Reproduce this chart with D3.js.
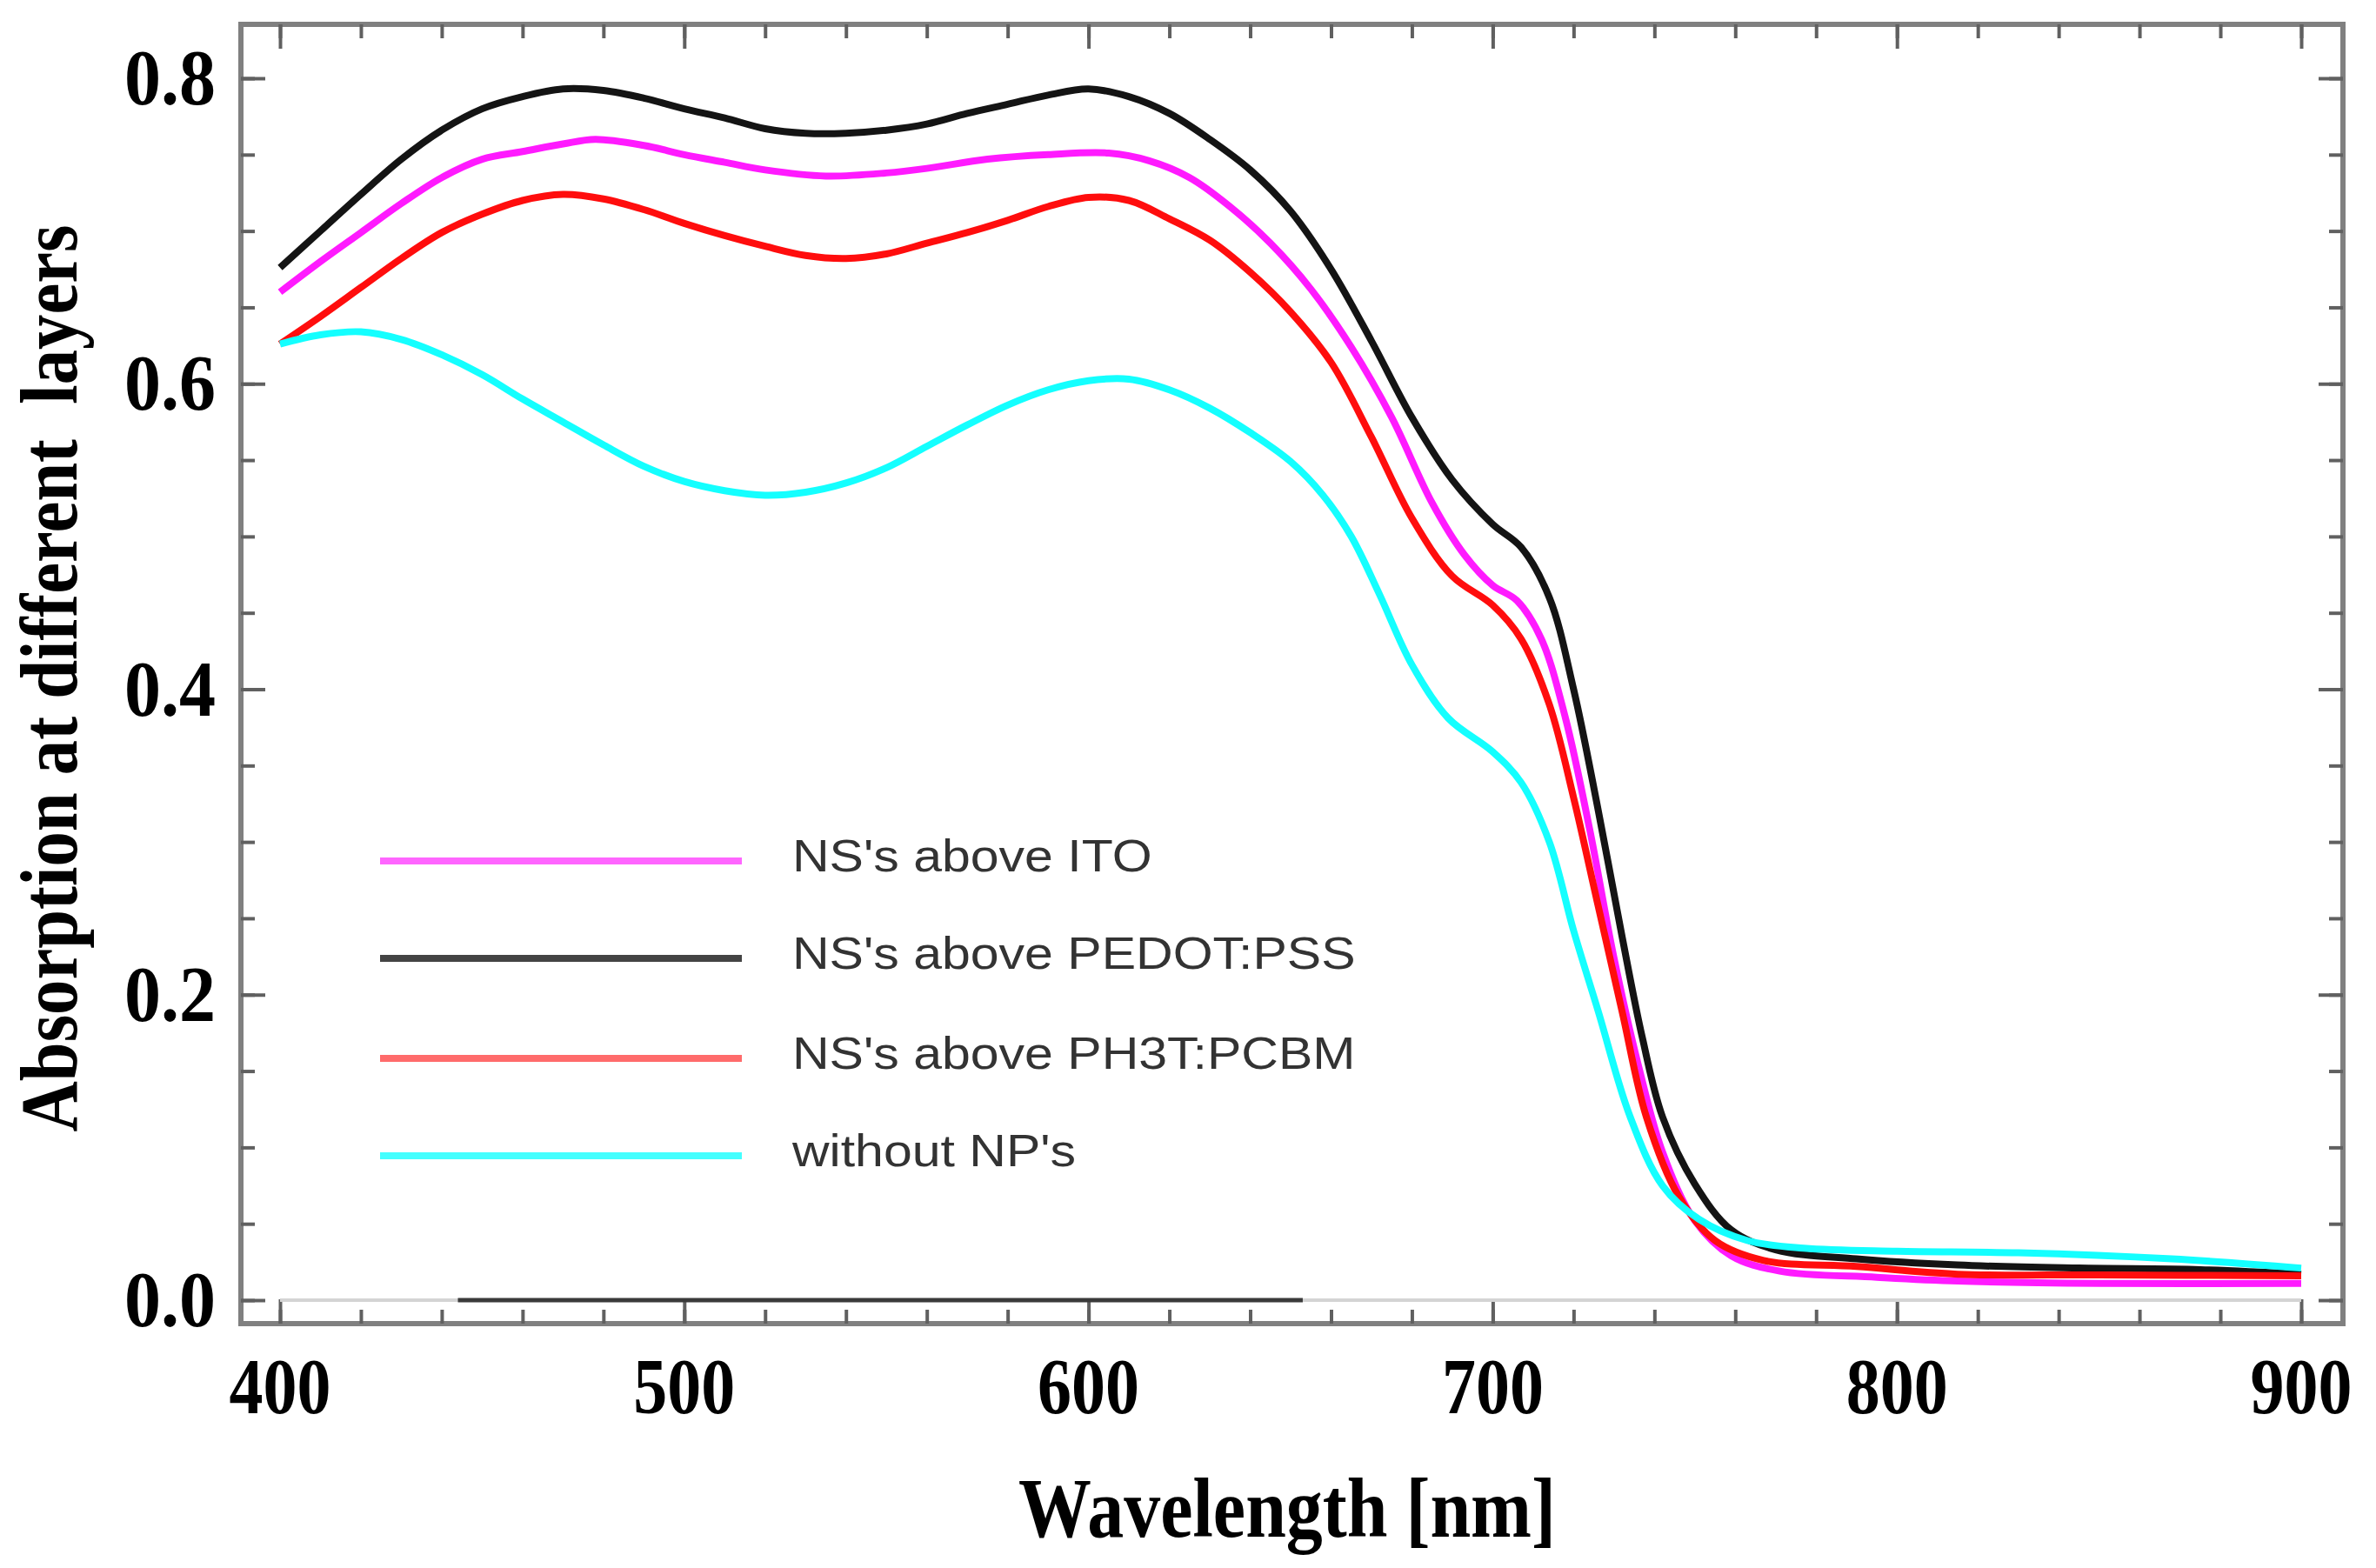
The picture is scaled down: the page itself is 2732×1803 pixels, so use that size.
<!DOCTYPE html>
<html>
<head>
<meta charset="utf-8">
<script src="https://cdn.jsdelivr.net/npm/d3@7"></script>
<style>
body { margin: 0; background: #fff; }
text { font-family: "Liberation Serif", "Times New Roman", serif; }
</style>
</head>
<body>
<svg id="chart" width="2732" height="1803"></svg>
<script>
// wavelength [nm], absorption
var seriesNames = ["NS's above ITO", "NS's above PEDOT:PSS", "NS's above PH3T:PCBM", "without NP's"];

var ito = [[400,0.660],[410,0.680],[420,0.699],[430,0.718],[440,0.735],[450,0.747],[460,0.752],[470,0.757],
  [478,0.760],[490,0.756],[500,0.750],[510,0.745],[520,0.740],[535,0.736],[550,0.738],[560,0.741],[575,0.747],
  [590,0.750],[605,0.751],[615,0.746],[625,0.735],[635,0.716],[645,0.692],[655,0.662],[665,0.624],[675,0.578],
  [685,0.522],[693,0.488],[700,0.468],[706,0.458],[712,0.433],[718,0.381],[724,0.308],[730,0.224],[736,0.154],
  [742,0.097],[750,0.052],[759,0.029],[771,0.019],[795,0.015],[815,0.0125],[850,0.011],[900,0.011]];

var pedot = [[400,0.676],[410,0.700],[420,0.724],[430,0.747],[440,0.766],[450,0.780],[460,0.788],[470,0.793],
  [480,0.792],[490,0.787],[500,0.780],[510,0.774],[520,0.767],[530,0.764],[540,0.764],[550,0.766],[560,0.770],
  [570,0.777],[580,0.783],[590,0.789],[600,0.793],[610,0.788],[620,0.777],[630,0.760],[640,0.740],[650,0.713],
  [660,0.675],[670,0.628],[680,0.578],[690,0.537],[700,0.508],[707,0.493],[714,0.460],[720,0.400],[726,0.322],
  [732,0.238],[737,0.172],[742,0.120],[750,0.076],[759,0.046],[770,0.033],[790,0.027],[815,0.023],[845,0.021],
  [875,0.020],[900,0.017]];

var ph3t = [[400,0.626],[410,0.644],[420,0.663],[430,0.682],[440,0.699],[450,0.711],[460,0.720],[470,0.724],
  [480,0.721],[490,0.714],[500,0.705],[510,0.697],[520,0.690],[530,0.684],[540,0.682],[550,0.685],[560,0.692],
  [570,0.699],[580,0.707],[590,0.716],[600,0.722],[610,0.720],[620,0.708],[630,0.694],[640,0.673],[650,0.647],
  [660,0.614],[670,0.565],[680,0.512],[690,0.474],[700,0.455],[707,0.433],[714,0.390],[720,0.329],[726,0.259],
  [732,0.189],[738,0.120],[746,0.068],[755,0.039],[767,0.026],[790,0.022],[815,0.017],[850,0.0165],[900,0.016]];

var noNP = [[400,0.626],[410,0.632],[420,0.634],[430,0.629],[440,0.619],[450,0.606],[460,0.590],[470,0.575],
  [480,0.560],[490,0.546],[500,0.536],[510,0.530],[520,0.527],[530,0.529],[540,0.535],[550,0.545],[560,0.559],
  [570,0.573],[580,0.586],[590,0.596],[600,0.602],[610,0.603],[620,0.596],[630,0.584],[640,0.568],[650,0.549],
  [658,0.527],[665,0.500],[672,0.462],[680,0.416],[689,0.381],[700,0.359],[707,0.339],[714,0.300],[720,0.242],
  [726,0.190],[734,0.120],[742,0.075],[751,0.053],[763,0.039],[777,0.034],[800,0.032],[830,0.031],[868,0.027],
  [900,0.021]];

// stray zero lines in the original figure
var zeroLight = [[400,0],[900,0]];
var zeroDark = [[444,0],[653,0]];

var xMajor = [400,500,600,700,800,900];
var xMinor = d3.range(400, 901, 20);
var yMajor = [0,0.2,0.4,0.6,0.8];
var yMinor = d3.range(0, 0.8001, 0.05);

var svg = d3.select('#chart');
var frameL = 277, frameR = 2694, frameT = 28, frameB = 1522;

var x = d3.scaleLinear().domain([400,900]).range([322,2646]);
var y = d3.scaleLinear().domain([0,0.8]).range([1495,90]);

var line = d3.line()
	.x(d => x(d[0]))
	.y(d => y(d[1]))
	.curve(d3.curveCatmullRom.alpha(0.5));

// frame
svg.append('rect')
	.attr('x', frameL).attr('y', frameT)
	.attr('width', frameR-frameL).attr('height', frameB-frameT)
	.attr('fill', 'none').attr('stroke', '#808080').attr('stroke-width', 6);

// ticks on all four sides, pointing inward
function ticks(axis, tx, ty, vals, len) {
	var g = svg.append('g').attr('transform', 'translate('+tx+','+ty+')')
		.call(axis.tickValues(vals).tickSize(-len).tickFormat(''));
	g.select('.domain').remove();
	g.selectAll('line').attr('stroke', '#606060').attr('stroke-width', 4);
	return g;
}
ticks(d3.axisBottom(x), 0, frameB, xMinor, 16);
ticks(d3.axisBottom(x), 0, frameB, xMajor, 28);
ticks(d3.axisTop(x), 0, frameT, xMinor, 16);
ticks(d3.axisTop(x), 0, frameT, xMajor, 28);
ticks(d3.axisLeft(y), frameL, 0, yMinor, 16);
ticks(d3.axisLeft(y), frameL, 0, yMajor, 28);
ticks(d3.axisRight(y), frameR, 0, yMinor, 16);
ticks(d3.axisRight(y), frameR, 0, yMajor, 28);

// tick labels
svg.append('g').selectAll('text').data(xMajor).enter().append('text')
	.attr('x', d => x(d)).attr('y', 1625)
	.attr('text-anchor', 'middle')
	.attr('font-size', 90).attr('font-weight', 'bold')
	.attr('textLength', 117).attr('lengthAdjust', 'spacingAndGlyphs')
	.text(d => d);

svg.append('g').selectAll('text').data(yMajor).enter().append('text')
	.attr('x', 248).attr('y', d => y(d) + 30)
	.attr('text-anchor', 'end')
	.attr('font-size', 92).attr('font-weight', 'bold')
	.attr('textLength', 105).attr('lengthAdjust', 'spacingAndGlyphs')
	.text(d => d3.format('.1f')(d));

// axis titles
svg.append('text')
	.attr('x', 1480).attr('y', 1767)
	.attr('text-anchor', 'middle')
	.attr('font-size', 97).attr('font-weight', 'bold')
	.attr('textLength', 618).attr('lengthAdjust', 'spacingAndGlyphs')
	.text('Wavelength [nm]');

svg.append('text')
	.attr('transform', 'translate(88,780) rotate(-90)')
	.attr('text-anchor', 'middle')
	.attr('font-size', 94).attr('font-weight', 'bold')
	.style('white-space', 'pre')
	.attr('textLength', 1043).attr('lengthAdjust', 'spacingAndGlyphs')
	.text('Absorption at different  layers');

// zero lines
svg.append('path').datum(zeroLight).attr('d', line)
	.attr('fill', 'none').attr('stroke', '#d4d4d4').attr('stroke-width', 4);
svg.append('path').datum(zeroDark).attr('d', line)
	.attr('fill', 'none').attr('stroke', '#3a3a3a').attr('stroke-width', 5);

// curves
var curves = [
	{data: ito, color: '#ff1aff'},
	{data: pedot, color: '#141414'},
	{data: ph3t, color: '#ff0d0d'},
	{data: noNP, color: '#14ffff'}
];
svg.append('g').selectAll('path').data(curves).enter().append('path')
	.attr('d', d => line(d.data))
	.attr('fill', 'none')
	.attr('stroke', d => d.color)
	.attr('stroke-width', 8)
	.attr('stroke-linejoin', 'round');

// legend
var legendColors = ['#ff66ff', '#444444', '#ff6b6b', '#44ffff'];
var legendRows = [990, 1102, 1217, 1329];
var leg = svg.append('g');
leg.selectAll('line').data(seriesNames).enter().append('line')
	.attr('x1', 437).attr('x2', 853)
	.attr('y1', (d,i) => legendRows[i]).attr('y2', (d,i) => legendRows[i])
	.attr('stroke', (d,i) => legendColors[i]).attr('stroke-width', 8);
leg.selectAll('text').data(seriesNames).enter().append('text')
	.attr('transform', (d,i) => 'translate(911,'+(legendRows[i]+12)+') scale(1.135,1)')
	.style('font-family', '"Liberation Sans", Arial, sans-serif')
	.attr('font-size', 52)
	.attr('fill', '#333')
	.text(d => d);
</script>
</body>
</html>
